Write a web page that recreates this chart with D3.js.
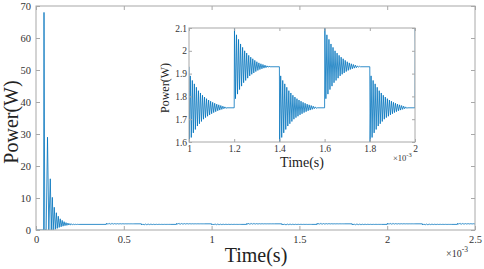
<!DOCTYPE html>
<meta charset="utf-8">
<style>
body { margin: 0; background: #fff; }
svg { display: block; font-family: "Liberation Serif", "Times New Roman", serif; }
svg text { font-family: "Liberation Serif", "Times New Roman", serif; }
.box { fill: none; stroke: #a8a8a8; stroke-width: 1; }
.tick line { stroke: #a8a8a8; }
.tick text { fill: #333; }
.trace { fill: none; stroke: #0072bd; stroke-width: 0.8; stroke-linejoin: round; }
</style>
<svg width="484" height="269"></svg>
<script src="https://d3js.org/d3.v7.min.js"></script>
<script>

// time in ms (axis shows x10^-3 s), power in W
var startup = [
  [0, 0], [0.043, 0], [0.0456, 68], [0.050, 0], [0.058, 0], [0.0655, 29], [0.073, 0],
  [0.0814, 16], [0.087, 0], [0.093, 10.2], [0.098, 0], [0.104, 7.1], [0.110, 0.2],
  [0.116, 5.4], [0.121, 0.5], [0.127, 4.3], [0.132, 0.8], [0.138, 3.5], [0.143, 1.0],
  [0.149, 3.0], [0.154, 1.2], [0.160, 2.6], [0.165, 1.35], [0.171, 2.3], [0.176, 1.45],
  [0.182, 2.15], [0.187, 1.55], [0.193, 2.0], [0.198, 1.6], [0.204, 1.9], [0.209, 1.65],
  [0.215, 1.84], [0.220, 1.68], [0.226, 1.8], [0.231, 1.71], [0.237, 1.78], [0.243, 1.73],
  [0.25, 1.75]
];

var stepTimes  = [0.4, 0.6, 0.8, 1.0, 1.2, 1.4, 1.6, 1.8, 2.0, 2.2, 2.4];
var stepLevels = [1.93, 1.75, 1.93, 1.75, 1.93, 1.75, 1.93, 1.75, 1.93, 1.75, 1.93];

// oscillation peaks after a step
var risePeaks = [2.10, 1.79, 2.07, 1.81, 2.05, 1.83, 2.03, 1.845, 2.015, 1.86, 2.0, 1.87,
  1.99, 1.88, 1.98, 1.89, 1.972, 1.897, 1.965, 1.903, 1.958, 1.909, 1.952, 1.914, 1.947,
  1.918, 1.943, 1.921, 1.94, 1.924, 1.937, 1.926, 1.934, 1.928, 1.932, 1.93];
var fallPeaks = [1.60, 1.89, 1.62, 1.87, 1.64, 1.855, 1.655, 1.84, 1.67, 1.825, 1.68, 1.815,
  1.69, 1.805, 1.70, 1.797, 1.707, 1.79, 1.713, 1.784, 1.719, 1.779, 1.724, 1.774, 1.729,
  1.77, 1.733, 1.766, 1.737, 1.763, 1.74, 1.76, 1.743, 1.757, 1.746, 1.754, 1.748, 1.75];
var halfPeriod = 0.0045;

var xTicks = [0, 0.5, 1, 1.5, 2, 2.5];
var yTicks = [0, 10, 20, 30, 40, 50, 60, 70];
var xTicksInset = [1, 1.2, 1.4, 1.6, 1.8, 2];
var yTicksInset = [1.6, 1.7, 1.8, 1.9, 2, 2.1];

// build the trace
var series = startup.slice();
var prev = 1.75;
stepTimes.forEach(function(t0, i) {
  var peaks = stepLevels[i] > prev ? risePeaks : fallPeaks;
  series.push([t0, prev]);
  peaks.forEach(function(p, k) { series.push([t0 + 0.0012 + k * halfPeriod, p]); });
  prev = stepLevels[i];
});
series.push([2.5, prev]);

var svg = d3.select("svg");

function drawAxes(g, x, y, xt, yt, fs, pad, tl) {
  var w = x.range()[1] - x.range()[0], h = y.range()[0] - y.range()[1];
  var clean = a => a.attr("font-family", null).attr("font-size", fs).select(".domain").remove();
  g.append("g").attr("transform", "translate(0," + y.range()[0] + ")")
    .call(d3.axisBottom(x).tickValues(xt).tickFormat(String).tickSize(-tl).tickPadding(pad))
    .call(clean);
  g.append("g").attr("transform", "translate(0," + y.range()[1] + ")")
    .call(d3.axisTop(x).tickValues(xt).tickFormat("").tickSize(-tl))
    .call(clean);
  g.append("g").attr("transform", "translate(" + x.range()[0] + ",0)")
    .call(d3.axisLeft(y).tickValues(yt).tickFormat(String).tickSize(-tl).tickPadding(pad - 1))
    .call(clean);
  g.append("g").attr("transform", "translate(" + x.range()[1] + ",0)")
    .call(d3.axisRight(y).tickValues(yt).tickFormat("").tickSize(-tl))
    .call(clean);
  g.append("rect").attr("class", "box")
    .attr("x", x.range()[0]).attr("y", y.range()[1]).attr("width", w).attr("height", h);
}

// main chart
var x = d3.scaleLinear().domain([0, 2.5]).range([36, 475]);
var y = d3.scaleLinear().domain([0, 70]).range([230, 6]);

svg.append("clipPath").attr("id", "clipMain").append("rect")
  .attr("x", 36).attr("y", 6).attr("width", 439).attr("height", 224);

var main = svg.append("g");
main.append("path").datum(series).attr("class", "trace")
  .attr("clip-path", "url(#clipMain)")
  .attr("d", d3.line().x(d => x(d[0])).y(d => y(d[1])));
drawAxes(main, x, y, xTicks, yTicks, 10.5, 6, 4);

main.append("text").attr("x", 256).attr("y", 262).attr("text-anchor", "middle")
  .attr("font-size", 20).attr("fill", "#222").text("Time(s)");
main.append("text").attr("transform", "translate(18,122) rotate(-90)").attr("text-anchor", "middle")
  .attr("font-size", 20).attr("fill", "#222").text("Power(W)");
var m1 = main.append("text").attr("x", 446).attr("y", 257).attr("font-size", 10).attr("fill", "#333");
m1.append("tspan").text("\u00d710");
m1.append("tspan").attr("dy", -5).attr("font-size", 7.5).text("-3");

// inset
var xi = d3.scaleLinear().domain([1, 2]).range([189, 415]);
var yi = d3.scaleLinear().domain([1.6, 2.1]).range([142, 28]);

svg.append("clipPath").attr("id", "clipInset").append("rect")
  .attr("x", 189).attr("y", 28).attr("width", 226).attr("height", 114);

var inset = svg.append("g");
inset.append("rect").attr("x", 189).attr("y", 28).attr("width", 226).attr("height", 114).attr("fill", "#fff");
inset.append("path").datum(series.filter(d => d[0] >= 0.99 && d[0] <= 2.01)).attr("class", "trace")
  .attr("clip-path", "url(#clipInset)")
  .attr("d", d3.line().x(d => xi(d[0])).y(d => yi(d[1])));
drawAxes(inset, xi, yi, xTicksInset, yTicksInset, 9.5, 3, 3);

inset.append("text").attr("x", 302).attr("y", 167).attr("text-anchor", "middle")
  .attr("font-size", 14).attr("fill", "#222").text("Time(s)");
inset.append("text").attr("transform", "translate(169,88) rotate(-90)").attr("text-anchor", "middle")
  .attr("font-size", 12).attr("fill", "#222").text("Power(W)");
var m2 = inset.append("text").attr("x", 393).attr("y", 161).attr("font-size", 8.5).attr("fill", "#333");
m2.append("tspan").text("\u00d710");
m2.append("tspan").attr("dy", -4).attr("font-size", 6.5).text("-3");

</script>
